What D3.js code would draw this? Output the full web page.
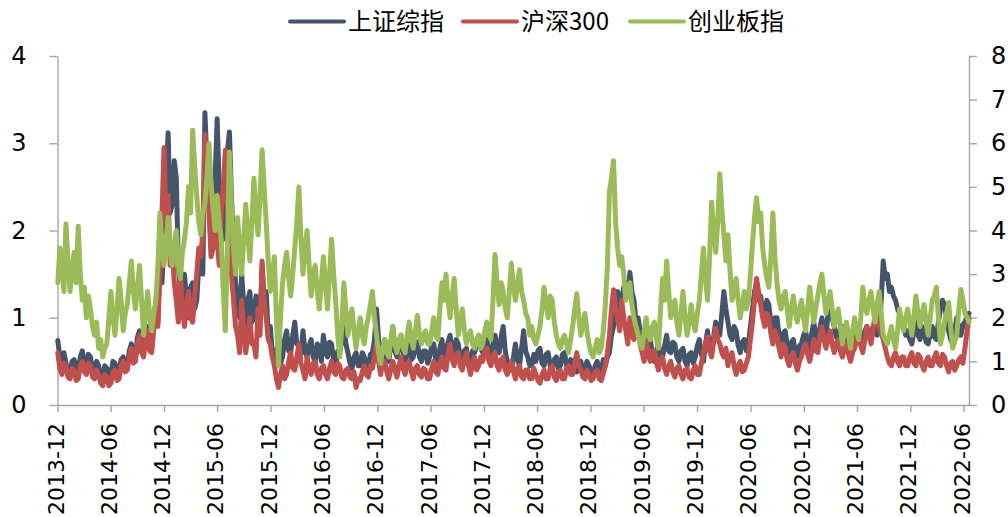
<!DOCTYPE html>
<html>
<head>
<meta charset="utf-8">
<script src="https://cdn.jsdelivr.net/npm/d3@7"></script>
<style>
  body { margin: 0; background: #fff; }
  svg { display: block; }
</style>
</head>
<body>
<svg id="chart" width="1008" height="517"></svg>
<script>
// Weekly readings starting from the first trading week of Dec 2013
const startDate = "2013-12-02";
const stepDays = 7;

const seriesNames = ["上证综指", "沪深300", "创业板指"];
const tickLabels = ["2013-12","2014-06","2014-12","2015-06","2015-12","2016-06","2016-12","2017-06",
  "2017-12","2018-06","2018-12","2019-06","2019-12","2020-06","2020-12","2021-06","2021-12","2022-06"];
const leftTicks = [0, 1, 2, 3, 4];
const rightTicks = [0, 1, 2, 3, 4, 5, 6, 7, 8];

// 上证综指 (left axis), one row per half year
const shComposite = [
  0.74,0.55,0.40,0.60,0.48,0.38,0.35,0.50,0.52,0.42,0.40,0.55,0.62,0.48,0.45,0.58,0.55,0.40,0.38,0.50,0.45,0.32,0.30,0.45,0.42,0.28,
  0.35,0.50,0.48,0.36,0.38,0.52,0.55,0.42,0.45,0.62,0.70,0.52,0.55,0.78,0.85,0.62,0.60,0.82,0.90,0.68,0.70,0.92,1.20,0.95,1.60,1.40,
  1.90,2.60,3.12,2.20,2.30,2.80,2.60,1.60,1.30,1.10,1.50,1.20,1.00,1.35,1.40,1.10,1.20,1.60,1.80,1.50,3.35,2.80,2.40,2.00,2.00,2.60,
  3.28,2.50,2.20,1.90,2.40,2.90,3.13,2.40,1.80,1.40,1.20,1.00,1.50,1.15,0.90,1.20,1.30,0.95,1.00,1.25,1.20,0.95,1.60,1.10,1.30,0.80,
  0.90,0.60,0.50,0.62,0.70,0.48,0.55,0.75,0.85,0.62,0.60,0.80,0.95,0.70,0.70,0.58,0.85,0.62,0.55,0.68,0.75,0.55,0.50,0.70,0.65,0.50,
  0.80,0.62,0.55,0.72,0.70,0.50,0.45,0.62,0.60,0.75,0.95,0.70,0.60,0.48,0.42,0.55,0.60,0.45,0.45,0.60,0.55,0.42,0.45,0.58,0.60,0.75,
  1.10,0.75,0.60,0.50,0.75,0.58,0.50,0.68,0.90,0.62,0.55,0.70,0.80,0.60,0.50,0.65,0.70,0.52,0.55,0.68,0.72,0.55,0.50,0.62,0.62,0.48,
  0.55,0.68,0.70,0.52,0.50,0.65,0.75,0.58,0.55,0.72,0.80,0.62,0.60,0.75,0.70,0.55,0.50,0.62,0.65,0.48,0.50,0.62,0.60,0.70,0.80,0.65,
  0.60,0.72,0.75,0.58,0.55,0.70,0.80,0.65,0.60,0.78,0.90,0.62,0.50,0.45,0.40,0.55,0.70,0.52,0.45,0.65,0.85,0.62,0.55,0.45,0.45,0.58,
  0.50,0.62,0.65,0.48,0.45,0.58,0.60,0.45,0.40,0.52,0.55,0.42,0.45,0.58,0.60,0.45,0.40,0.52,0.50,0.40,0.38,0.48,0.50,0.38,0.40,0.50,
  0.45,0.36,0.35,0.45,0.50,0.38,0.40,0.52,0.45,0.55,0.60,0.80,0.90,1.10,1.30,1.05,1.20,1.35,1.40,1.25,1.52,1.30,1.20,0.95,1.00,0.85,
  0.80,0.65,0.60,0.72,0.75,0.58,0.50,0.62,0.70,0.55,0.55,0.68,0.80,0.62,0.60,0.72,0.70,0.55,0.50,0.62,0.65,0.50,0.45,0.58,0.60,0.48,
  0.55,0.68,0.75,0.58,0.50,0.70,0.85,0.68,0.60,0.78,0.95,0.82,0.80,1.05,1.30,1.10,0.95,0.80,0.75,0.90,0.85,0.68,0.60,0.72,0.75,0.62,
  0.70,0.90,1.10,1.30,1.40,1.20,1.25,1.05,1.05,1.20,1.15,0.95,0.85,1.00,1.00,0.80,0.70,0.82,0.85,0.68,0.60,0.72,0.75,0.60,0.55,0.68,
  0.70,0.80,0.85,0.70,0.65,0.82,0.95,0.78,0.75,0.88,1.00,0.85,0.80,1.05,1.25,1.00,0.90,0.78,0.75,0.88,0.90,0.72,0.65,0.78,0.80,0.68,
  0.70,0.82,0.85,0.72,0.70,0.85,0.90,0.78,0.75,0.90,0.95,0.80,0.85,1.20,1.65,1.45,1.50,1.30,1.35,1.25,1.20,1.10,1.05,0.92,0.90,0.80,
  0.85,0.75,0.70,0.85,0.95,0.80,0.75,0.90,0.85,0.72,0.70,0.82,0.90,0.78,0.75,0.95,1.10,1.20,1.15,1.00,0.85,0.75,0.70,0.85,1.00,0.88,
  0.80,0.92,0.95,1.02,1.05
];

// 沪深300 (left axis)
const csi300 = [
  0.60,0.42,0.35,0.48,0.45,0.32,0.30,0.42,0.40,0.28,0.30,0.45,0.50,0.38,0.35,0.48,0.45,0.32,0.30,0.40,0.35,0.25,0.22,0.35,0.32,0.22,
  0.25,0.38,0.40,0.28,0.30,0.45,0.50,0.38,0.40,0.55,0.65,0.48,0.50,0.70,0.80,0.60,0.55,0.75,0.85,0.62,0.60,0.88,1.20,0.90,1.60,2.20,
  2.95,2.10,2.40,1.60,1.80,1.40,1.20,0.95,1.50,1.10,0.90,1.15,1.30,1.00,0.95,1.25,1.50,1.80,1.70,2.00,3.10,2.60,2.20,1.70,1.80,2.30,
  1.90,1.60,2.20,2.50,2.92,2.30,2.00,1.50,1.20,0.90,0.80,0.60,1.20,0.85,0.60,0.80,1.00,0.70,0.70,0.55,1.10,0.80,1.65,1.20,1.00,0.75,
  0.70,0.55,0.45,0.30,0.20,0.35,0.45,0.30,0.35,0.50,0.60,0.42,0.40,0.55,0.70,0.48,0.40,0.30,0.55,0.40,0.35,0.48,0.50,0.35,0.30,0.42,
  0.45,0.35,0.30,0.42,0.50,0.38,0.35,0.48,0.45,0.32,0.30,0.40,0.42,0.32,0.30,0.38,0.20,0.30,0.28,0.38,0.45,0.35,0.32,0.45,0.42,0.55,
  0.70,0.50,0.35,0.48,0.50,0.38,0.30,0.42,0.50,0.40,0.32,0.45,0.55,0.42,0.35,0.48,0.50,0.38,0.30,0.42,0.45,0.35,0.32,0.42,0.40,0.30,
  0.30,0.42,0.50,0.38,0.35,0.48,0.55,0.42,0.40,0.58,0.70,0.52,0.45,0.58,0.60,0.45,0.40,0.52,0.60,0.45,0.35,0.48,0.55,0.40,0.45,0.55,
  0.50,0.62,0.65,0.50,0.45,0.58,0.60,0.45,0.40,0.52,0.55,0.40,0.35,0.45,0.50,0.38,0.30,0.42,0.45,0.32,0.30,0.40,0.40,0.30,0.30,0.42,
  0.35,0.28,0.25,0.35,0.40,0.30,0.30,0.42,0.45,0.32,0.28,0.38,0.40,0.30,0.30,0.42,0.45,0.35,0.35,0.48,0.60,0.45,0.40,0.32,0.30,0.40,
  0.35,0.28,0.30,0.38,0.40,0.30,0.28,0.36,0.45,0.60,0.80,1.10,1.32,1.10,1.00,0.85,1.20,1.00,0.85,0.70,1.00,0.80,0.75,0.90,0.85,0.70,
  0.60,0.50,0.75,0.58,0.50,0.62,0.62,0.48,0.40,0.52,0.55,0.42,0.35,0.45,0.50,0.38,0.32,0.42,0.45,0.35,0.30,0.40,0.42,0.32,0.30,0.40,
  0.45,0.35,0.35,0.48,0.60,0.70,0.78,0.62,0.55,0.72,0.88,0.75,0.70,0.60,0.55,0.65,0.45,0.55,0.60,0.45,0.35,0.45,0.50,0.38,0.40,0.48,
  0.55,0.75,0.95,1.20,1.45,1.30,1.15,1.00,0.90,1.05,1.00,0.82,0.70,0.85,0.80,0.65,0.55,0.70,0.65,0.52,0.45,0.55,0.60,0.48,0.40,0.50,
  0.55,0.65,0.70,0.58,0.50,0.62,0.75,0.62,0.60,0.78,0.90,0.75,0.65,0.78,0.85,0.70,0.60,0.70,0.75,0.62,0.55,0.65,0.70,0.58,0.50,0.60,
  0.65,0.75,0.80,0.68,0.60,0.75,0.90,0.80,0.70,0.85,1.05,0.95,0.90,0.82,0.75,0.65,0.55,0.48,0.45,0.55,0.60,0.50,0.45,0.55,0.55,0.45,
  0.45,0.55,0.60,0.48,0.45,0.58,0.55,0.45,0.40,0.50,0.55,0.45,0.45,0.55,0.60,0.48,0.45,0.58,0.55,0.45,0.38,0.48,0.50,0.40,0.45,0.52,
  0.55,0.48,0.65,0.85,1.00
];

// 创业板指 (right axis)
const chinext = [
  2.80,3.60,3.20,2.60,4.15,3.30,2.60,3.10,3.50,2.80,4.10,3.00,2.40,2.70,2.00,2.50,2.20,1.80,1.60,1.90,1.30,1.50,1.10,1.30,1.40,2.00,
  2.60,2.00,1.60,2.20,2.90,2.40,1.70,2.10,2.30,2.80,3.30,2.60,2.20,2.70,3.20,2.40,1.60,2.10,2.60,2.00,1.70,2.10,2.40,3.20,4.40,3.60,
  3.20,3.80,4.30,3.50,3.20,3.70,4.00,3.20,2.90,3.50,3.80,4.20,5.00,4.40,6.30,5.50,4.80,4.20,3.90,4.40,4.60,5.20,6.00,5.10,4.50,4.00,
  4.80,4.20,3.80,2.60,1.70,3.50,5.80,4.60,3.60,3.00,4.30,3.60,3.00,3.80,4.60,3.90,3.30,4.20,5.20,4.40,3.90,4.80,5.85,5.00,4.20,3.30,
  2.60,3.00,3.40,2.00,0.90,2.00,2.80,3.20,3.50,2.90,2.50,3.00,3.60,4.20,5.00,3.80,3.00,3.60,4.00,3.20,2.50,3.00,3.20,2.60,2.20,2.80,
  3.40,2.80,2.20,3.00,3.80,3.00,2.40,1.60,1.10,1.80,2.80,2.20,1.60,2.00,2.20,1.70,1.30,1.70,2.00,1.60,1.40,1.80,2.00,2.30,2.60,2.00,
  1.60,1.20,0.95,1.30,1.50,1.20,1.10,1.50,1.80,1.40,1.20,1.50,1.60,1.30,1.20,1.60,1.90,1.50,1.30,1.70,2.05,1.60,1.40,1.60,1.70,1.40,
  1.40,1.70,2.00,1.60,1.50,2.20,2.80,2.40,3.00,2.40,2.00,2.50,2.90,2.20,1.60,1.90,2.20,1.70,1.40,1.60,1.70,1.40,1.30,1.50,1.60,1.30,
  1.40,1.70,1.90,1.60,1.50,2.40,3.45,2.80,2.30,2.80,2.60,2.20,2.00,2.60,3.25,2.70,2.40,2.80,3.10,2.60,2.40,2.10,2.00,1.60,1.80,1.50,
  1.40,1.60,1.80,2.20,2.70,2.30,2.00,2.50,2.40,1.90,1.60,1.40,1.30,1.50,1.60,1.40,1.20,1.50,1.80,2.20,2.55,2.00,1.60,1.90,2.10,1.70,
  1.40,1.20,1.10,1.30,1.50,1.20,1.30,1.70,2.30,3.20,4.90,5.20,5.60,4.20,3.60,3.20,3.40,3.00,2.40,2.70,2.80,2.30,2.00,1.80,1.60,1.40,
  1.30,1.70,2.00,1.60,1.50,1.80,1.90,1.50,1.30,2.20,2.90,2.40,3.30,2.60,2.00,2.20,2.40,1.90,1.60,2.10,2.60,2.00,1.60,1.90,2.30,1.90,
  1.70,2.10,2.40,3.00,3.60,2.90,2.40,3.40,4.65,4.00,3.50,4.20,5.30,4.50,3.90,3.30,3.90,3.10,2.40,2.60,2.90,2.40,2.00,2.30,2.60,2.20,
  2.40,3.00,3.70,4.30,4.75,4.20,4.40,3.60,3.20,2.90,2.70,3.40,4.40,3.40,2.80,2.40,2.20,2.50,2.60,2.20,1.80,2.20,2.50,2.10,1.90,2.20,
  2.40,2.00,1.70,2.20,2.70,2.30,1.90,2.20,2.50,2.80,3.00,2.50,2.10,2.40,2.60,2.20,1.80,2.00,2.20,1.80,1.40,1.70,1.90,1.60,1.30,1.70,
  2.00,1.70,1.50,2.00,2.70,2.30,2.10,2.40,2.60,2.20,1.90,2.30,2.60,2.10,1.60,1.50,1.40,1.60,1.80,1.50,1.30,1.70,2.20,1.90,1.70,2.00,
  2.20,1.90,1.60,2.00,2.50,2.10,1.80,2.10,2.30,1.90,1.60,2.00,2.40,2.50,2.70,2.00,1.40,1.60,1.90,2.10,2.35,1.80,1.30,1.45,1.60,2.20,
  2.65,2.40,2.10,2.00,1.90
];

const colors = ["#44546A", "#C0504D", "#9BBB59"];
const axisColor = "#A6A6A6";
const numFont = "'DejaVu Sans', sans-serif";
const cjkFont = "'Noto Sans CJK SC', 'Noto Sans', sans-serif";

const svg = d3.select("#chart");
svg.append("rect").attr("width", 1008).attr("height", 517).attr("fill", "#fff");

const plot = { left: 57.5, right: 969, top: 56, bottom: 405 };

const parseMonth = d3.timeParse("%Y-%m");
const tickDates = tickLabels.map(parseMonth);
const t0 = d3.timeParse("%Y-%m-%d")(startDate);
const dates = shComposite.map((_, i) => d3.timeDay.offset(t0, i * stepDays));

const x = d3.scaleTime()
  .domain([tickDates[0], tickDates[tickDates.length - 1]])
  .range([plot.left, 963.5]);
const yL = d3.scaleLinear().domain([0, 4]).range([plot.bottom, plot.top]);
const yR = d3.scaleLinear().domain([0, 8]).range([plot.bottom, plot.top]);

// axes
const fmtInt = d3.format("d");
const gLeft = svg.append("g").attr("transform", `translate(${plot.left},0)`)
  .call(d3.axisLeft(yL).tickValues(leftTicks).tickFormat(fmtInt).tickSize(8).tickSizeOuter(0).tickPadding(23));
const gRight = svg.append("g").attr("transform", `translate(${plot.right},0)`)
  .call(d3.axisRight(yR).tickValues(rightTicks).tickFormat(fmtInt).tickSize(8).tickSizeOuter(0).tickPadding(14));
const gBottom = svg.append("g").attr("transform", `translate(0,${plot.bottom})`)
  .call(d3.axisBottom(x).tickValues(tickDates).tickSize(7).tickSizeOuter(0).tickFormat(""));

// bottom axis line runs across to the right axis
gBottom.select(".domain").attr("d", `M${plot.left},0.5H${plot.right}`);

[gLeft, gRight, gBottom].forEach(g => {
  g.select(".domain").attr("stroke", axisColor).attr("stroke-width", 1.4);
  g.selectAll(".tick line").attr("stroke", axisColor).attr("stroke-width", 1.4);
  g.selectAll(".tick text").attr("fill", "#000").attr("font-family", numFont).attr("font-size", 24);
});

// rotated date labels
svg.append("g").selectAll("text")
  .data(tickDates)
  .join("text")
  .attr("transform", (d) => `translate(${x(d) + 6},423) rotate(-90)`)
  .attr("text-anchor", "end")
  .attr("font-family", numFont)
  .attr("font-size", 22)
  .attr("fill", "#000")
  .text((d, i) => tickLabels[i]);

// series lines
const series = [
  { name: seriesNames[0], values: shComposite, y: yL, color: colors[0] },
  { name: seriesNames[1], values: csi300, y: yL, color: colors[1] },
  { name: seriesNames[2], values: chinext, y: yR, color: colors[2] }
];

series.forEach(s => {
  const line = d3.line()
    .x((d, i) => x(dates[i]))
    .y(d => s.y(d));
  svg.append("path")
    .datum(s.values)
    .attr("d", line)
    .attr("fill", "none")
    .attr("stroke", s.color)
    .attr("stroke-width", 5)
    .attr("stroke-linejoin", "round")
    .attr("stroke-linecap", "round");
});

// legend
const legendX = [290, 463, 630];
const legend = svg.append("g");
series.forEach((s, i) => {
  legend.append("line")
    .attr("x1", legendX[i]).attr("x2", legendX[i] + 54)
    .attr("y1", 21.5).attr("y2", 21.5)
    .attr("stroke", s.color).attr("stroke-width", 4).attr("stroke-linecap", "round");
  legend.append("text")
    .attr("x", legendX[i] + 58).attr("y", 30)
    .attr("font-family", cjkFont).attr("font-size", 24).attr("fill", "#000")
    .text(s.name);
});
</script>
</body>
</html>
